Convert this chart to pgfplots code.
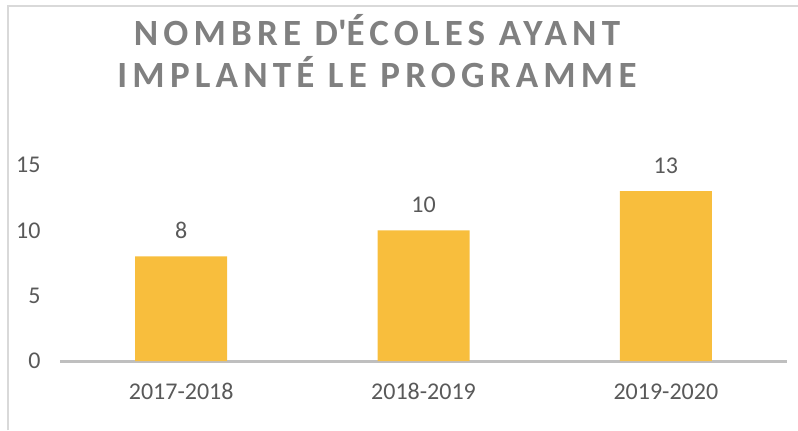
\documentclass[border=0pt]{standalone}
\usepackage{fontspec}
\setmainfont{Carlito}
\usepackage{pgfplots}
\pgfplotsset{compat=1.18}
\definecolor{barcol}{HTML}{F8BE3D}
\definecolor{tickcol}{HTML}{595959}
\definecolor{titlecol}{HTML}{808080}
\definecolor{axcol}{HTML}{BFBFBF}
\definecolor{bordercol}{HTML}{D9D9D9}
\begin{document}
\begin{tikzpicture}[x=1bp,y=1bp]
\path[use as bounding box] (0,0) rectangle (798,430);
\draw[bordercol, line width=1.5bp] (8,0) -- (8,424) -- (798,424);
\node[anchor=base, text=titlecol, font=\fontsize{37bp}{40bp}\selectfont\bfseries\addfontfeature{LetterSpace=14}] at (377,385) {NOMBRE D\textquotesingle ÉCOLES AYANT};
\node[anchor=base, text=titlecol, font=\fontsize{37bp}{40bp}\selectfont\bfseries\addfontfeature{LetterSpace=14}] at (377,343) {IMPLANTÉ LE PROGRAMME};
\begin{axis}[
  at={(60bp,69bp)}, anchor=south west,
  scale only axis, width=727bp, height=196bp,
  xmin=-0.5, xmax=2.5, ymin=0, ymax=15,
  axis x line*=bottom, axis y line*=left,
  y axis line style={draw=none},
  x axis line style={axcol, line width=3bp},
  xtick=data, xticklabels={2017-2018,2018-2019,2019-2020},
  ytick={0,5,10,15},
  major tick length=0pt,
  tick style={draw=none},
  ticklabel style={text=tickcol, font=\fontsize{24bp}{26bp}\selectfont},
  /pgf/number format/assume math mode=true,
  yticklabel style={anchor=east, xshift=-16bp},
  xticklabel style={yshift=-19bp},
  clip=false,
]
\addplot[ybar, bar width=92bp, fill=barcol, draw=none,
  nodes near coords,
  nodes near coords style={text=tickcol, font=\fontsize{24bp}{26bp}\selectfont, yshift=14bp},
  point meta=explicit symbolic]
  coordinates {(0,8)[8] (1,10)[10] (2,13)[13]};
\end{axis}
\end{tikzpicture}
\end{document}
